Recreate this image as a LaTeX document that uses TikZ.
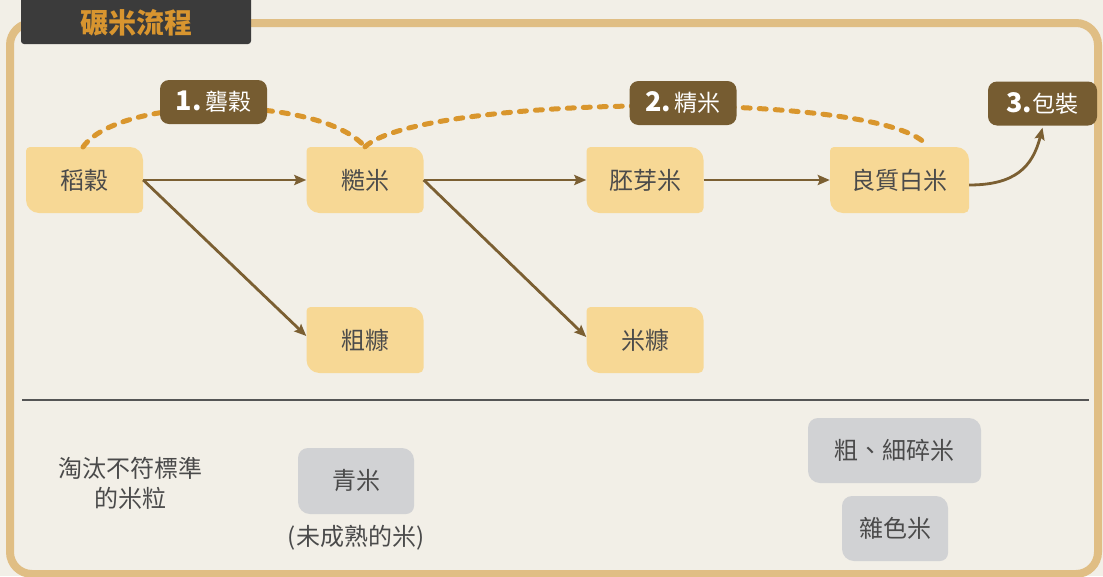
\documentclass[tikz,border=0pt]{standalone}
\usepackage{fontspec}
\setmainfont{Noto Sans CJK TC}
\usetikzlibrary{arrows.meta,calc}
\definecolor{bgc}{HTML}{F2EFE7}
\definecolor{framec}{HTML}{E0BE84}
\definecolor{titlebg}{HTML}{3B3B3B}
\definecolor{titlec}{HTML}{D8952F}
\definecolor{yfill}{HTML}{F7D895}
\definecolor{gfill}{HTML}{D1D2D4}
\definecolor{brownc}{HTML}{765C31}
\definecolor{arrowc}{HTML}{7B5F32}
\definecolor{dashc}{HTML}{D9962D}
\definecolor{txt}{HTML}{4A4A4A}
\definecolor{sepc}{HTML}{555555}
\begin{document}
\begin{tikzpicture}[x=1pt,y=-1pt,
  corners/.style n args={5}{path picture={\fill[#1]
    (path picture bounding box.west) [rounded corners=#2] -- (path picture bounding box.north west) -- (path picture bounding box.north)
    [rounded corners=#3] -- (path picture bounding box.north east) -- (path picture bounding box.east)
    [rounded corners=#4] -- (path picture bounding box.south east) -- (path picture bounding box.south)
    [rounded corners=#5] -- (path picture bounding box.south west) -- cycle;}},
  basetext/.style={text=txt, font=\fontsize{24}{30}\selectfont},
  ybox/.style={basetext, minimum width=117pt, minimum height=66pt, inner sep=0pt, corners={yfill}{4pt}{13pt}{5pt}{13pt}},
  gbox/.style={basetext, minimum height=66pt, inner sep=0pt, corners={gfill}{10pt}{12pt}{8pt}{12pt}},
  stagebox/.style={fill=brownc, rounded corners=9pt, minimum width=107pt, minimum height=44pt, inner sep=0pt, text=white, font=\fontsize{23}{28}\selectfont},
  arr/.style={draw=arrowc, line width=2.8pt, -{Stealth[length=12pt,width=10pt,inset=2pt]}},
  dashline/.style={draw=dashc, line width=5pt, dash pattern=on 7pt off 9pt, line cap=round},
]
\useasboundingbox (0,0) rectangle (1103,576);
\fill[bgc] (0,0) rectangle (1103,576);
% frame
\draw[framec, line width=8pt, rounded corners=22pt] (10,23) rectangle (1098,574);
% title
\fill[titlebg, rounded corners=3pt] (21,-10) rectangle (251,44);
\node[text=titlec, font=\bfseries\fontsize{28}{30}\selectfont] (title) at (136,23) {碾米流程};

% main nodes
\node[ybox] (daogu) at (84.5,180) {稻穀};
\node[ybox] (caomi) at (365,180) {糙米};
\node[ybox] (peiya) at (645,180) {胚芽米};
\node[ybox, minimum width=139pt] (liang) at (899.5,180) {良質白米};
\node[ybox] (cukang) at (365,340) {粗糠};
\node[ybox] (mikang) at (645,340) {米糠};

% dashed arcs
\draw[dashline] (83,147) .. controls (120,95) and (320,95) .. (caomi.north);
\draw[dashline] (caomi.north) .. controls (420,95) and (880,90) .. ($(liang.north)+(27,-2)$);

% stage labels
\node[stagebox] (s1) at (213.5,102) {{\bfseries\fontsize{27}{28}\selectfont 1.}\,礱穀};
\node[stagebox] (s2) at (683,103) {{\bfseries\fontsize{27}{28}\selectfont 2.}\,精米};
\node[stagebox, minimum width=109pt] (s3) at (1042.5,103.5) {{\bfseries\fontsize{27}{28}\selectfont 3.}包裝};

% arrows
\draw[arr] (daogu.east) -- (caomi.west);
\draw[arr] (daogu.east) -- ($(cukang.west)+(0,-4)$);
\draw[arr] (caomi.east) -- (peiya.west);
\draw[arr] (caomi.east) -- ($(mikang.west)+(0,-3)$);
\draw[arr] (peiya.east) -- (liang.west);
\draw[arr] ($(liang.east)+(0,5)$) .. controls +(45,0) and +(-10,40) .. ($(s3.south)+(0,2)$);

% separator
\coordinate (sepL) at (22,400);
\coordinate (sepR) at (1089,400);
\draw[sepc, line width=1.2pt] (sepL) -- (sepR);

% rejects
\node[basetext, align=center] (reject) at (130,483) {淘汰不符標準\\的米粒};
\node[gbox, minimum width=116pt] (qing) at (356,481) {青米};
\node[basetext] (qingnote) at (356,538) {(未成熟的米)};
\node[gbox, minimum width=173pt, minimum height=65pt] (sui) at (894.5,450.5) {粗、細碎米};
\node[gbox, minimum width=106pt, minimum height=65pt] (za) at (895,528.5) {雜色米};
\end{tikzpicture}
\end{document}
